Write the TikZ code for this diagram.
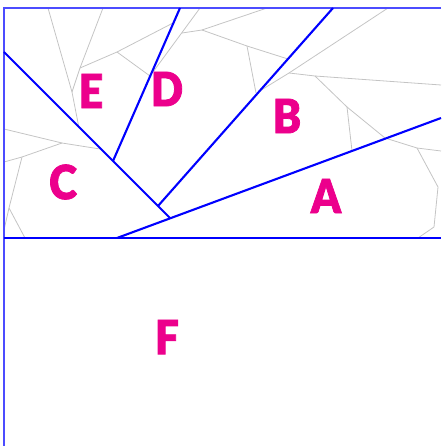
\documentclass[tikz,border=0pt]{standalone}
\usepackage{fontspec}
\newfontfamily\labfont{Lato Black}[BoldFont={Lato Black},BoldFeatures={FakeBold=1.6,FakeStretch=0.9}]
\definecolor{mag}{HTML}{EC008C}
\definecolor{gline}{HTML}{C4C4C4}
\begin{document}
\begin{tikzpicture}[x=1pt,y=-1pt,
  region/.style={text=mag,font=\labfont\bfseries\fontsize{47}{47}\selectfont,inner sep=0pt},
  cut/.style={draw=blue,line width=2.1pt},
  frame/.style={draw=blue!70,line width=1.3pt},
  vor/.style={draw=gline,line width=0.8pt}]
\useasboundingbox (0,0) rectangle (441,446);
% gray cells
\draw[vor] (48,8)--(72,92)--(79,128);
\draw[vor] (72,92)--(80,68)--(103,8);
\draw[vor] (80,68)--(117,52)--(150,76);
\draw[vor] (117,52)--(173,23);
\draw[vor] (200,8)--(153,72);
\draw[vor] (182,33)--(202,30)--(267,8);
\draw[vor] (202,30)--(247,46)--(288,59);
\draw[vor] (247,46)--(256,93);
\draw[vor] (388,8)--(289,73)--(258,92);
\draw[vor] (289,73)--(315,76)--(441,85);
\draw[vor] (315,76)--(347,107)--(352,151);
\draw[vor] (347,107)--(385,138)--(417,148)--(441,151);
\draw[vor] (417,148)--(438,187)--(434,227)--(418,238);
\draw[vor] (4,129)--(62,143)--(100,149);
\draw[vor] (62,143)--(22,157)--(4,162);
\draw[vor] (22,157)--(9,208)--(4,230);
\draw[vor] (9,208)--(25,238);
% frame
\coordinate (tl) at (4,8);
\coordinate (tr) at (441,8);
\coordinate (bl) at (4,446);
\coordinate (ml) at (4,238);
\coordinate (mr) at (441,238);
\draw[frame] (tr)--(tl)--(bl);
\draw[cut] (ml)--(mr);
% blue cuts
\coordinate (a1) at (117,238);
\coordinate (a2) at (441,118);
\coordinate (c1) at (4,52);
\coordinate (c2) at (170,218);
\coordinate (d1) at (180,8);
\coordinate (d2) at (113,161);
\coordinate (b1) at (333,8);
\coordinate (b2) at (158,206);
\draw[cut] (a1)--(a2);
\draw[cut] (c1)--(c2);
\draw[cut] (d1)--(d2);
\draw[cut] (b1)--(b2);
% labels
\node[region] (A) at (326,196) {A};
\node[region] (B) at (287,116) {B};
\node[region] (C) at (63,182) {C};
\node[region] (D) at (167,89) {D};
\node[region] (E) at (91,91) {E};
\node[region] (F) at (167,337) {F};
\end{tikzpicture}
\end{document}
